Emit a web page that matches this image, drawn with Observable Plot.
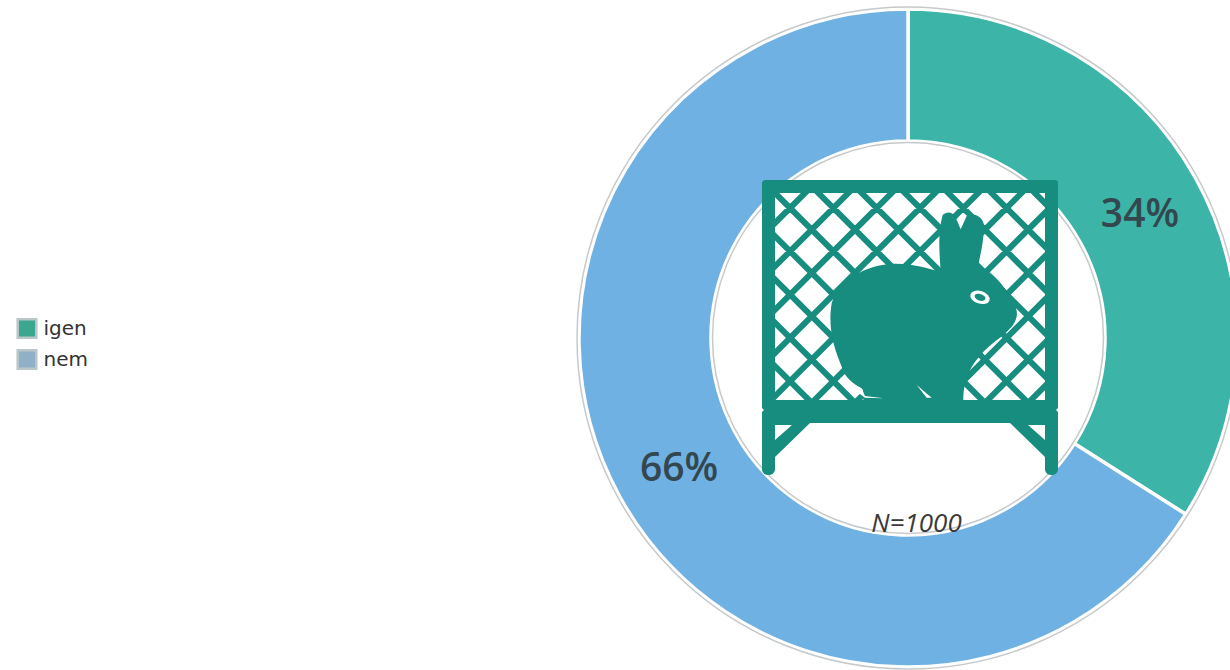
<!DOCTYPE html>
<html>
<head>
<meta charset="utf-8">
<script src="https://cdn.jsdelivr.net/npm/d3@7"></script>
<script src="https://cdn.jsdelivr.net/npm/@observablehq/plot@0.6"></script>
<style>html,body{margin:0;padding:0;background:#fff}svg{display:block}</style>
</head>
<body>
<div id="chart"></div>
<script>
const categories = ["igen", "nem"];
const shares = [34, 66];
const sliceColors = ["#3cb5a8", "#6fb1e3"];
const swatchColors = ["#3ba78f", "#8fb0c6"];
const sampleNote = "N=1000";

const W = 1230, H = 670, CX = 908, CY = 338;
const R_OUT = 329, R_IN = 197, ICON = "#178d7f";

const slices = d3.pie().sort(null).value(d => d.share)(
  categories.map((category, i) => ({category, share: shares[i]}))
).map(a => ({...a, category: a.data.category, share: a.data.share}));

const arc = d3.arc().innerRadius(R_IN).outerRadius(R_OUT);
const rows = slices.map(s => {
  const [x, y] = arc.centroid(s);
  return {...s, x, y, label: `${s.share}%`};
});
const legendRows = categories.map((category, i) => ({category, swatch: swatchColors[i], dy: 328 + i * 31}));

function donut(index, scales, values) {
  const g = d3.create("svg:g").attr("transform", `translate(${scales.x(0)},${scales.y(0)})`);
  for (const i of index) {
    g.append("path").attr("d", arc(rows[i])).attr("fill", values.fill[i])
      .attr("stroke", "#fff").attr("stroke-width", 3.5);
  }
  for (const r of [R_OUT + 2, R_IN - 1.5]) {
    g.append("circle").attr("r", r).attr("fill", "none").attr("stroke", "#c6c9cb").attr("stroke-width", 1.5);
  }
  return g.node();
}

// Decorative cage-and-rabbit pictogram at the centre of the ring.
function pictogram() {
  const g = d3.create("svg:g");
  g.append("clipPath").attr("id", "cage-clip").append("rect")
    .attr("x", 775).attr("y", 193).attr("width", 271).attr("height", 208);
  g.append("rect").attr("x", 775).attr("y", 193).attr("width", 271).attr("height", 208).attr("fill", "#fff");
  const bars = [];
  for (let k = -12; k <= 12; k++) {
    const s = 1041.35 + k * 43.3, d = 625.35 + k * 43.3;
    bars.push(`M${s - 180} 180L${s - 420} 420`, `M${d + 180} 180L${d + 420} 420`);
  }
  g.append("path").attr("clip-path", "url(#cage-clip)").attr("d", bars.join(""))
    .attr("stroke", ICON).attr("stroke-width", 6).attr("fill", "none");
  // frame, shelf, legs and braces
  g.append("path").attr("fill", ICON).attr("fill-rule", "evenodd").attr("d",
    "M766 180H1055Q1058 180 1058 183V408L1056 410L1058 412V470Q1057 475 1051.5 475Q1046 475 1045 470V457L1010 423H810L775 457V470Q774 475 768.500 475Q763 475 762 470V412L764 410L762 408V183Q762 180 766 180Z" +
    "M775 193V400H1045V193Z" +
    "M775 425V440L792 425Z" +
    "M1028 425L1045 440V425Z");
  // rabbit (drawn in 3x coordinates)
  const rabbit = g.append("g").attr("transform", "translate(750,170) scale(0.33333)");
  rabbit.append("path").attr("fill", ICON).attr("d",
    "M245 400C260 350 320 290 420 282C480 278 530 295 572 305C568 240 563 190 578 135C590 122 610 125 618 145L632 178L650 138C665 128 697 135 702 165C702 210 692 250 685 285C720 300 772 350 798 415C808 445 790 470 760 495C740 512 712 530 692 555C665 585 640 625 640 692L340 692L340 660C310 640 285 625 275 590C255 540 232 480 245 400Z");
  rabbit.append("ellipse").attr("cx", 690).attr("cy", 382).attr("rx", 30).attr("ry", 19)
    .attr("transform", "rotate(18 690 382)").attr("fill", "#fff");
  rabbit.append("ellipse").attr("cx", 690).attr("cy", 382).attr("rx", 17).attr("ry", 10)
    .attr("transform", "rotate(18 690 382)").attr("fill", ICON);
  rabbit.append("path").attr("d", "M500 645L545 683L530 683Z M270 620L335 655L345 678L400 685L345 683L300 650Z").attr("fill", "#fff");
  return g.node();
}

const chart = Plot.plot({
  width: W,
  height: H,
  margin: 0,
  x: {domain: [-CX, W - CX], range: [0, W], axis: null},
  y: {domain: [-CY, H - CY], range: [0, H], axis: null},
  color: {domain: categories, range: sliceColors},
  style: {background: "#fff"},
  marks: [
    Plot.dot(rows, {x: () => 0, y: () => 0, fill: "category", render: donut}),
    pictogram,
    Plot.text(rows, {
      x: "x", y: "y", dx: 1, dy: 3, text: "label", fontSize: 39, fill: "#34474f",
      fontFamily: "Open Sans", fontWeight: 600
    }),
    Plot.text([sampleNote], {
      x: () => 8, y: () => 185, text: d => d, fontSize: 26, fontStyle: "italic",
      fill: "#3a3a3a", fontFamily: "Open Sans"
    }),
    ...legendRows.map(d => Plot.dot([d], {
      frameAnchor: "top-left", dx: 26.5, dy: d.dy, symbol: "square", r: 10.5,
      fill: d.swatch, stroke: "#bcc6c8", strokeWidth: 2.5
    })),
    ...legendRows.map(d => Plot.text([d], {
      frameAnchor: "top-left", dx: 43, dy: d.dy, text: "category", textAnchor: "start", lineAnchor: "middle",
      fontSize: 20, fill: "#333", fontFamily: "DejaVu Sans"
    }))
  ]
});
document.getElementById("chart").append(chart);
</script>
</body>
</html>
